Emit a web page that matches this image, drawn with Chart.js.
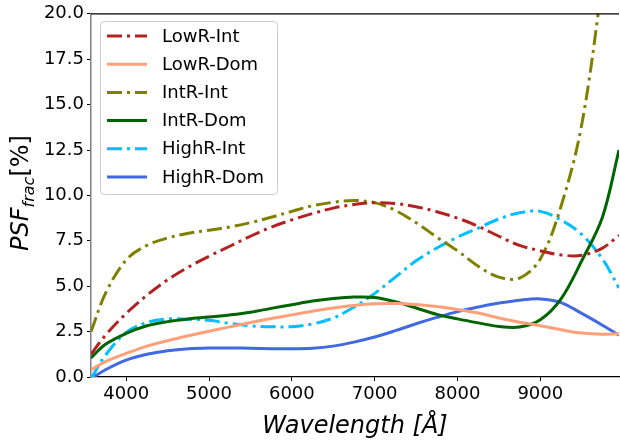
<!DOCTYPE html>
<html>
<head>
<meta charset="utf-8">
<script src="https://cdn.jsdelivr.net/npm/chart.js@4.4.0/dist/chart.umd.min.js"></script>
<style>
  html, body { margin: 0; padding: 0; background: #fff; }
  #wrap { width: 620px; height: 441px; }
</style>
</head>
<body>
<div id="wrap"><canvas id="psfChart" width="620" height="441"></canvas></div>
<script>
// Wavelength grid (Angstrom)
const wavelength = [3575, 3750, 4000, 4250, 4500, 4750, 5000, 5250, 5500, 5750, 6000, 6250, 6500, 6750,
  7000, 7250, 7500, 7750, 8000, 8250, 8500, 8750, 9000, 9250, 9500, 9750, 9950];

// PSF fraction [%] for each sample
const lowRInt = [1.25, 2.3, 3.5, 4.5, 5.35, 6.05, 6.65, 7.2, 7.75, 8.25, 8.65, 9.0, 9.3, 9.5,
  9.6, 9.55, 9.38, 9.1, 8.75, 8.3, 7.75, 7.25, 6.95, 6.72, 6.7, 7.1, 7.8];
const lowRDom = [0.4, 0.85, 1.3, 1.7, 2.0, 2.27, 2.52, 2.76, 3.0, 3.22, 3.42, 3.62, 3.8, 3.94,
  4.03, 4.05, 3.99, 3.88, 3.72, 3.52, 3.25, 3.02, 2.82, 2.6, 2.42, 2.35, 2.38];
const intRInt = [2.5, 4.6, 6.45, 7.25, 7.65, 7.92, 8.08, 8.26, 8.5, 8.8, 9.12, 9.43, 9.62, 9.72,
  9.6, 9.17, 8.5, 7.7, 6.95, 6.1, 5.5, 5.45, 6.5, 9.4, 13.9, 21.8, 29.0];
const intRDom = [1.05, 1.8, 2.4, 2.82, 3.05, 3.2, 3.3, 3.42, 3.57, 3.78, 3.98, 4.18, 4.32, 4.4,
  4.38, 4.15, 3.8, 3.45, 3.2, 2.98, 2.78, 2.75, 3.15, 4.3, 6.4, 8.8, 12.5];
const highRInt = [-0.1, 1.2, 2.45, 3.0, 3.2, 3.18, 3.12, 2.95, 2.82, 2.77, 2.77, 2.92, 3.25, 3.85,
  4.6, 5.5, 6.4, 7.1, 7.7, 8.2, 8.7, 9.05, 9.12, 8.65, 7.85, 6.5, 4.9];
const highRDom = [-0.1, 0.4, 0.93, 1.25, 1.45, 1.56, 1.6, 1.6, 1.58, 1.56, 1.55, 1.58, 1.7, 1.92,
  2.2, 2.55, 2.93, 3.28, 3.6, 3.85, 4.07, 4.23, 4.3, 4.1, 3.5, 2.85, 2.3];

const seriesNames = ["LowR-Int", "LowR-Dom", "IntR-Int", "IntR-Dom", "HighR-Int", "HighR-Dom"];
const seriesValues = [lowRInt, lowRDom, intRInt, intRDom, highRInt, highRDom];
const seriesColors = ["#b22222", "#ffa07a", "#808000", "#006400", "#00bfff", "#4169e1"];
const dashDot = [15, 5, 3, 5];
const seriesDash = [dashDot, [], dashDot, [], dashDot, []];

const xTicks = [4000, 5000, 6000, 7000, 8000, 9000];
const FONT = "'DejaVu Sans', sans-serif";

const datasets = seriesNames.map((name, i) => ({
  label: name,
  data: wavelength.map((w, j) => ({ x: w, y: seriesValues[i][j] })),
  borderColor: seriesColors[i],
  backgroundColor: seriesColors[i],
  borderDash: seriesDash[i],
  borderWidth: 3,
  pointRadius: 0,
  tension: 0.35,
  fill: false,
}));

// Legend box, spines and y-axis title drawn by hand
const decorations = {
  id: "decorations",
  afterDraw(chart) {
    const ctx = chart.ctx;
    const area = chart.chartArea;
    ctx.save();

    // top spine
    ctx.strokeStyle = "#000";
    ctx.lineWidth = 1.2;
    ctx.beginPath();
    ctx.moveTo(area.left, area.top);
    ctx.lineTo(area.right, area.top);
    ctx.stroke();

    // legend
    const bx = 100, by = 21, bw = 177, bh = 173;
    ctx.fillStyle = "rgba(255,255,255,0.85)";
    ctx.strokeStyle = "#cccccc";
    ctx.lineWidth = 1;
    ctx.beginPath();
    ctx.roundRect(bx + 0.5, by + 0.5, bw, bh, 4);
    ctx.fill();
    ctx.stroke();

    ctx.font = "18px " + FONT;
    ctx.textBaseline = "middle";
    ctx.textAlign = "left";
    chart.data.datasets.forEach((ds, i) => {
      const yy = 36 + i * 28.2;
      ctx.strokeStyle = ds.borderColor;
      ctx.lineWidth = 3;
      ctx.setLineDash(ds.borderDash);
      ctx.beginPath();
      ctx.moveTo(107, yy);
      ctx.lineTo(147, yy);
      ctx.stroke();
      ctx.setLineDash([]);
      ctx.fillStyle = "#000";
      ctx.fillText(ds.label, 162, yy + 1);
    });

    // y-axis title: PSF_frac[%]
    ctx.translate(28, 193);
    ctx.rotate(-Math.PI / 2);
    ctx.fillStyle = "#000";
    ctx.textBaseline = "alphabetic";
    const big = "italic 24px " + FONT;
    const small = "italic 16px " + FONT;
    const up = "24px " + FONT;
    ctx.font = big; const w1 = ctx.measureText("PSF").width;
    ctx.font = small; const w2 = ctx.measureText("frac").width;
    ctx.font = up; const w3 = ctx.measureText("[%]").width;
    let x0 = -(w1 + w2 + w3) / 2;
    ctx.font = big; ctx.fillText("PSF", x0, 0); x0 += w1;
    ctx.font = small; ctx.fillText("frac", x0, 6); x0 += w2;
    ctx.font = up; ctx.fillText("[%]", x0, 0);

    ctx.restore();
  },
};

new Chart(document.getElementById("psfChart"), {
  type: "line",
  data: { datasets },
  options: {
    responsive: false,
    animation: false,
    layout: { padding: { top: 11, right: 1, left: 0, bottom: 0 } },
    plugins: {
      legend: { display: false },
      tooltip: { enabled: false },
    },
    scales: {
      x: {
        type: "linear",
        min: 3575,
        max: 9950,
        afterBuildTicks(scale) {
          scale.ticks = xTicks.map((v) => ({ value: v }));
        },
        afterFit(scale) { scale.height = 64; },
        border: { display: true, color: "#000", width: 1.2, dash: [4, 3] },
        grid: { drawOnChartArea: false, drawTicks: true, tickLength: 4, color: "#000" },
        ticks: {
          color: "#000",
          padding: 3,
          maxRotation: 0,
          font: { family: FONT, size: 18 },
          callback: (v) => String(v),
        },
        title: {
          display: true,
          text: "Wavelength [Å]",
          color: "#000",
          padding: { top: 3, bottom: 0 },
          font: { family: FONT, size: 24, style: "italic" },
        },
      },
      y: {
        min: 0,
        max: 20,
        afterFit(scale) { scale.width = 91; },
        border: { display: true, color: "#808080", width: 1.5 },
        grid: { drawOnChartArea: false, drawTicks: true, tickLength: 4, color: "#000" },
        ticks: {
          stepSize: 2.5,
          color: "#000",
          padding: 3,
          font: { family: FONT, size: 18 },
          callback: (v) => v.toFixed(1),
        },
      },
    },
  },
  plugins: [decorations],
});
</script>
</body>
</html>
